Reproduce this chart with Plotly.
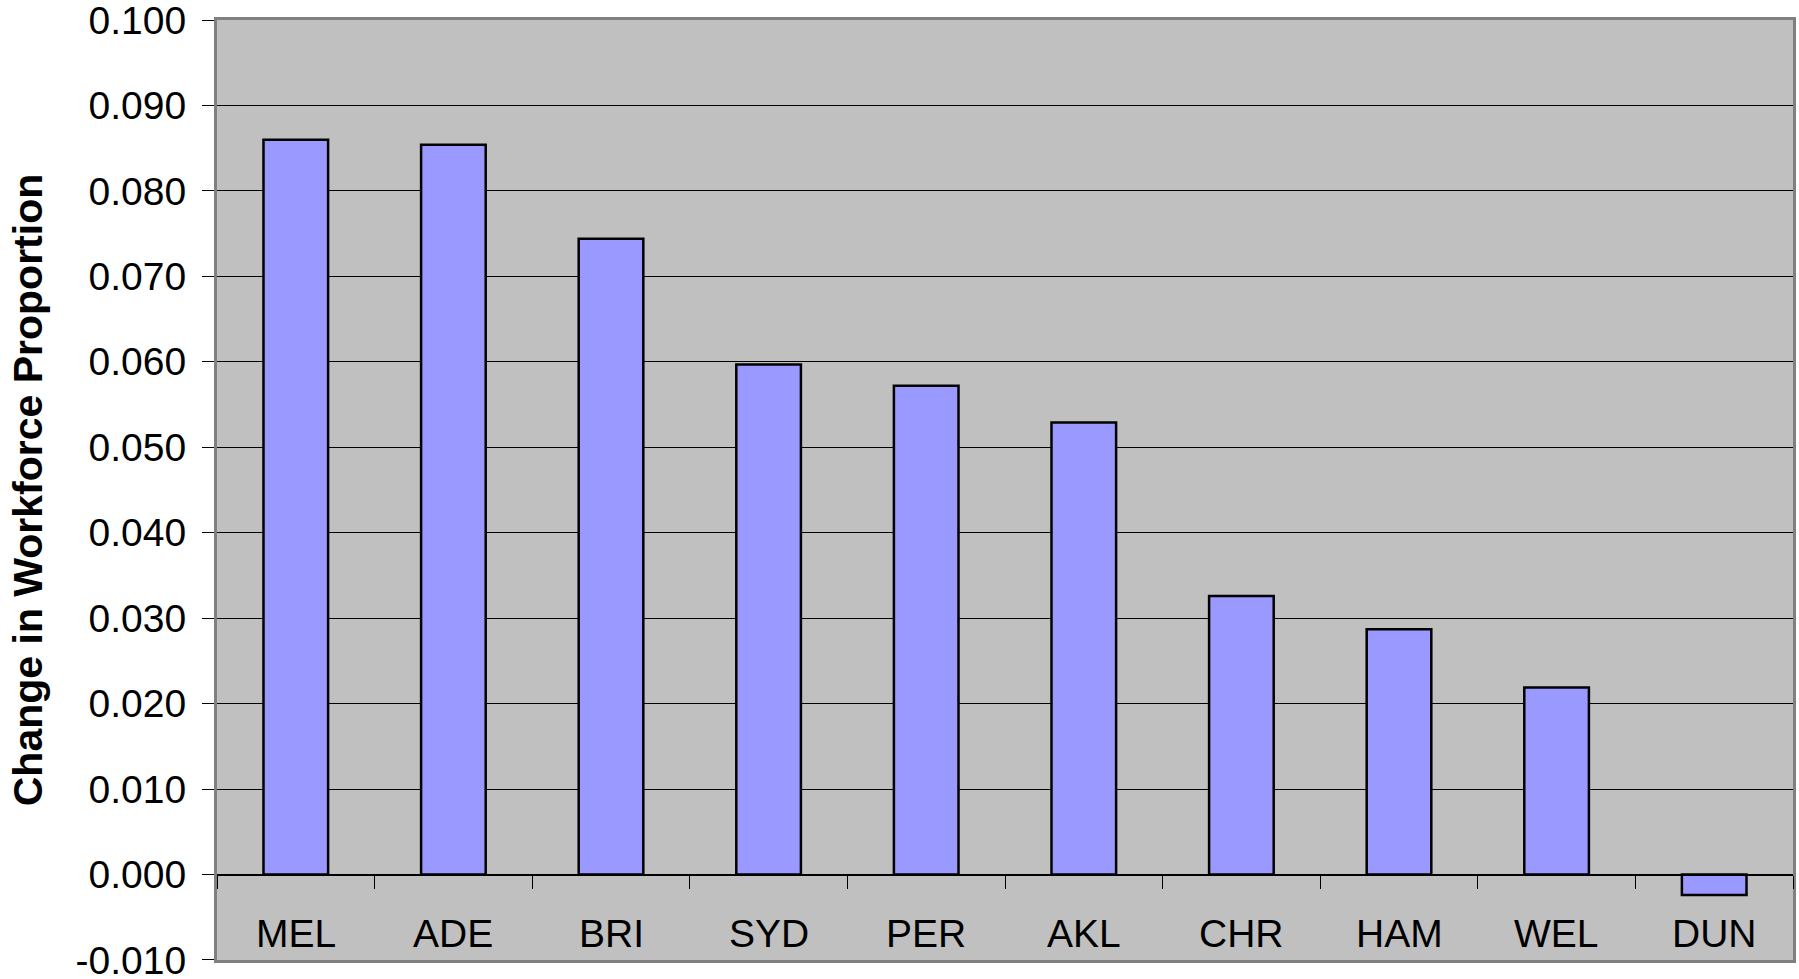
import plotly.graph_objects as go

categories = ["MEL", "ADE", "BRI", "SYD", "PER", "AKL", "CHR", "HAM", "WEL", "DUN"]
values = [0.0860, 0.0854, 0.0744, 0.0597, 0.0572, 0.0529, 0.0326, 0.0287, 0.0219, -0.0024]
y_ticks = [-0.010, 0.000, 0.010, 0.020, 0.030, 0.040, 0.050, 0.060, 0.070, 0.080, 0.090, 0.100]
y_tick_labels = ["-0.010", "0.000", "0.010", "0.020", "0.030", "0.040",
                 "0.050", "0.060", "0.070", "0.080", "0.090", "0.100"]
y_title = "Change in Workforce Proportion"

y_min, y_max = -0.010, 0.100
pad = 1e-6
zero_pos = (0 - y_min) / (y_max - y_min)
x_range = [-0.5, len(categories) - 0.5]

fig = go.Figure()
fig.add_trace(go.Bar(
    x=categories, y=values, xaxis="x", yaxis="y",
    marker=dict(color="#9999FF", line=dict(color="black", width=2.5)),
    width=0.41, showlegend=False, hoverinfo="x+y",
))
# invisible trace for the zero-positioned axis carrying the boundary ticks
fig.add_trace(go.Scatter(
    x=categories, y=values, xaxis="x2", yaxis="y",
    mode="none", showlegend=False, hoverinfo="skip",
))

font_family = "Liberation Sans, Arial, sans-serif"

# category labels placed inside the plot area near its bottom edge
for cat in categories:
    fig.add_annotation(
        x=cat, xref="x", y=0.0287, yref="paper",
        text=cat, showarrow=False, yanchor="middle", xanchor="center",
        font=dict(size=39, color="black", family=font_family),
    )

fig.update_layout(
    width=1799, height=979,
    margin=dict(l=217, r=6, t=20, b=19),
    paper_bgcolor="white",
    plot_bgcolor="#C0C0C0",
    font=dict(family=font_family, color="black", size=38),
    xaxis=dict(
        type="category", categoryorder="array", categoryarray=categories,
        range=x_range, automargin=False,
        showgrid=False, zeroline=False,
        ticks="", showticklabels=False,
        showline=True, linecolor="#808080", linewidth=3, mirror=True,
    ),
    xaxis2=dict(
        type="category", categoryorder="array", categoryarray=categories,
        range=x_range, overlaying="x", anchor="free", position=zero_pos,
        automargin=False,
        showgrid=False, zeroline=False, showticklabels=False,
        ticks="outside", tickson="boundaries", ticklen=13, tickwidth=1.2, tickcolor="black",
        showline=True, linecolor="black", linewidth=1.2,
    ),
    yaxis=dict(
        range=[y_min - pad, y_max + pad], tickvals=y_ticks, ticktext=y_tick_labels,
        automargin=False, ticklabeloverflow="allow",
        showgrid=True, gridcolor="black", gridwidth=1.2,
        zeroline=True, zerolinecolor="black", zerolinewidth=1.2,
        ticks="outside", ticklen=12, tickwidth=1.2, tickcolor="black",
        ticklabelstandoff=8,
        tickfont=dict(size=39, color="black", family=font_family),
        showline=True, linecolor="#808080", linewidth=3, mirror=True,
        title=dict(text=y_title, font=dict(size=41, family=font_family, color="black", weight="bold"), standoff=21),
    ),
)

fig.write_html(
    "out.html",
    config={"displayModeBar": False},
    post_script="document.body.style.margin='0px';document.body.style.overflow='hidden';",
)
